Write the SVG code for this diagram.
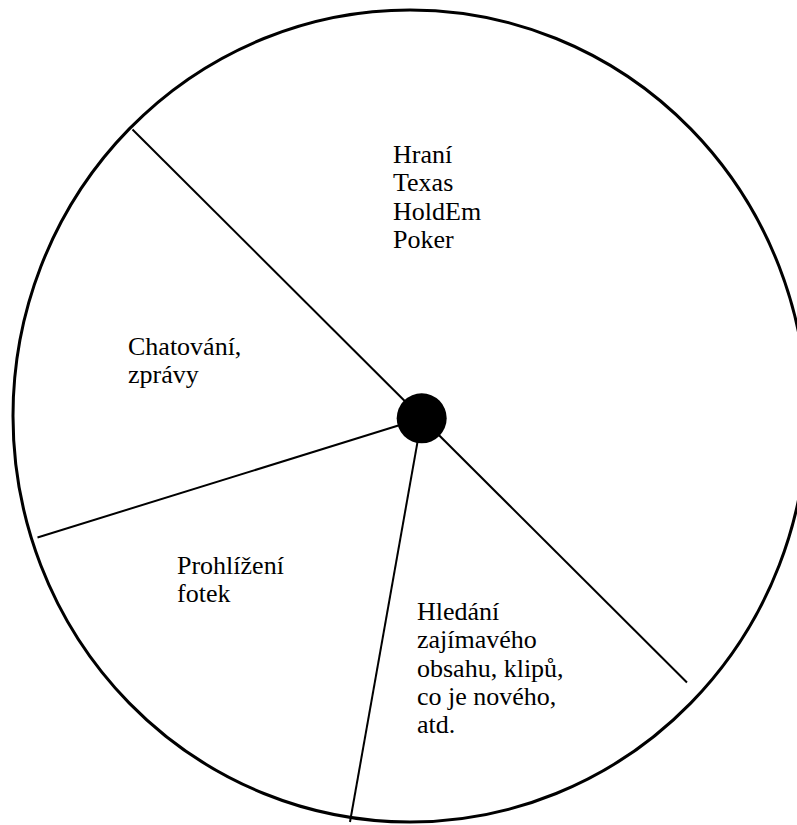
<svg xmlns="http://www.w3.org/2000/svg" width="797" height="825" viewBox="0 0 797 825">
<style>
.rim{fill:none;stroke:#000;stroke-width:3}
.ln{stroke:#000;stroke-width:2;fill:none}
.t{font-family:"Liberation Serif","Times New Roman",serif;font-size:26px;fill:#000}
</style>
<rect width="797" height="825" fill="#fff"/>
<g id="wheel">
<ellipse class="rim" cx="410" cy="416" rx="397" ry="406"/>
</g>
<g id="connectors">
<line class="ln" x1="132.5" y1="129.5" x2="687" y2="682.5"/>
<line class="ln" x1="37.5" y1="537.5" x2="421.7" y2="418.3"/>
<line class="ln" x1="421.7" y1="418.3" x2="350" y2="822"/>
</g>
<g id="hub">
<circle cx="421.7" cy="418.3" r="25" fill="#000"/>
</g>
<g id="seg-poker">
<text class="t" x="393" y="163">Hraní</text>
<text class="t" x="393" y="191">Texas</text>
<text class="t" x="393" y="220">HoldEm</text>
<text class="t" x="393" y="248">Poker</text>
</g>
<g id="seg-chat">
<text class="t" x="128" y="355">Chatování,</text>
<text class="t" x="128" y="383">zprávy</text>
</g>
<g id="seg-photos">
<text class="t" x="177" y="574">Prohlížení</text>
<text class="t" x="177" y="602">fotek</text>
</g>
<g id="seg-content">
<text class="t" x="417" y="620">Hledání</text>
<text class="t" x="417" y="648">zajímavého</text>
<text class="t" x="417" y="677">obsahu, klipů,</text>
<text class="t" x="417" y="705">co je nového,</text>
<text class="t" x="417" y="733">atd.</text>
</g>
</svg>
